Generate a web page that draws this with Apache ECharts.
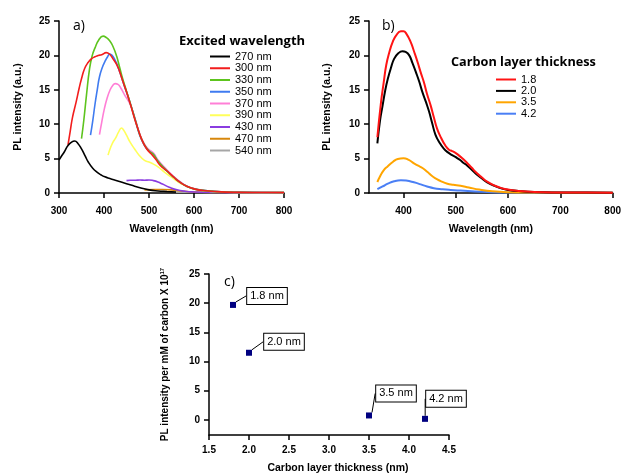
<!DOCTYPE html>
<html><head><meta charset="utf-8">
<script src="https://cdn.jsdelivr.net/npm/echarts@6/dist/echarts.min.js"></script>
<style>html,body{margin:0;padding:0;background:#fff}#c{width:624px;height:475px}</style>
</head><body><div id="c"></div>
<script>
// Panel a: excitation wavelength series [wavelength nm, PL intensity]
const ex270 = [[300,4.8],[305,5.3],[312,6.0],[320,6.9],[328,7.4],[335,7.55],[342,7.2],[350,6.4],[358,5.4],[365,4.5],[375,3.6],[385,3.0],[393,2.65],[402,2.35],[413,2.1],[425,1.85],[440,1.55],[460,1.15],[480,0.75],[500,0.45],[520,0.3],[540,0.22],[560,0.15]];
const ex300 = [[320,7.0],[325,9.0],[330,11.0],[338,13.2],[345,15.3],[350,16.6],[357,18.1],[365,19.0],[372,19.5],[380,19.8],[387,20.0],[395,20.1],[405,20.4],[412,20.2],[420,19.5],[428,18.7],[435,17.6],[442,16.2],[450,14.7],[460,12.6],[468,10.8],[476,9.2],[483,7.9],[492,6.7],[500,6.0],[506,5.6],[515,4.9],[525,4.0],[540,3.2],[555,2.3],[570,1.5],[585,0.95],[600,0.6],[620,0.36],[650,0.2],[700,0.1],[750,0.07],[800,0.05]];
const ex330 = [[350,7.9],[355,10.5],[361,14.2],[368,18.1],[374,20.0],[380,21.1],[388,22.2],[398,22.8],[405,22.6],[413,22.1],[420,21.3],[428,19.9],[435,18.2],[442,16.5],[450,14.8],[460,12.7],[470,10.5],[480,8.4],[490,7.0],[500,6.1],[510,5.6],[520,4.6],[540,3.2],[555,2.3],[570,1.5],[585,0.95],[600,0.6],[620,0.38],[650,0.2],[700,0.1],[800,0.05]];
const ex350 = [[370,8.4],[375,10.5],[380,12.9],[385,15.0],[390,16.9],[396,18.2],[402,19.1],[408,19.8],[413,20.2],[418,20.0],[424,19.4],[430,18.5],[438,17.0],[445,15.6],[452,14.3],[460,12.7],[470,10.5],[480,8.3],[490,6.9],[500,6.1],[510,5.6],[520,4.6],[540,3.2],[555,2.3],[570,1.5],[585,0.95],[600,0.6],[620,0.38],[650,0.2],[700,0.1],[800,0.05]];
const ex370 = [[390,8.5],[395,10.3],[401,12.3],[407,13.8],[413,14.9],[419,15.6],[425,15.9],[431,15.8],[437,15.3],[443,14.6],[448,14.0],[454,13.4],[460,12.6],[470,10.6],[480,8.5],[490,7.1],[500,6.3],[510,5.8],[520,4.8],[540,3.35],[555,2.4],[570,1.6],[585,1.0],[600,0.65],[620,0.4],[650,0.22],[700,0.12],[800,0.06]];
const ex390 = [[409,5.5],[414,6.5],[420,7.4],[426,8.0],[432,8.8],[439,9.45],[444,9.1],[450,8.4],[458,7.4],[468,6.4],[478,5.5],[490,4.75],[500,4.5],[510,4.2],[520,3.8],[535,3.0],[550,2.3],[565,1.6],[580,1.1],[600,0.6],[620,0.35],[650,0.15],[700,0.08],[800,0.05]];
const ex430 = [[450,1.8],[458,1.85],[470,1.85],[480,1.9],[490,1.85],[500,1.9],[510,1.8],[520,1.6],[530,1.3],[545,0.85],[560,0.5],[580,0.25],[600,0.15],[650,0.08],[700,0.05],[800,0.04]];
const ex470 = [[490,0.45],[510,0.5],[530,0.5],[550,0.45],[570,0.3],[600,0.15],[650,0.08],[700,0.06],[800,0.05]];
const ex540 = [[560,0.12],[600,0.1],[650,0.08],[700,0.07],[750,0.06],[800,0.05]];
const exNames = ['270 nm','300 nm','330 nm','350 nm','370 nm','390 nm','430 nm','470 nm','540 nm'];

// Panel b: carbon layer thickness series
const t18 = [[350,8.1],[357,13.2],[362,16.0],[367,18.6],[373,20.5],[379,21.9],[386,22.9],[395,23.5],[400,23.5],[405,23.2],[414,21.9],[420,20.6],[427,19.0],[433,17.5],[439,16.1],[445,14.4],[452,12.7],[458,11.0],[464,9.4],[472,8.0],[480,6.9],[487,6.3],[493,6.1],[500,5.8],[507,5.4],[513,5.0],[520,4.5],[530,3.7],[540,2.9],[550,2.25],[560,1.65],[575,1.05],[590,0.65],[600,0.5],[620,0.3],[650,0.15],[700,0.08],[750,0.06],[800,0.05]];
const t20 = [[350,7.2],[355,10.5],[360,12.7],[365,14.9],[370,16.6],[376,18.2],[382,19.5],[390,20.3],[398,20.6],[404,20.5],[411,20.0],[417,18.9],[424,17.5],[430,16.2],[436,14.7],[443,13.2],[449,11.8],[455,10.1],[461,8.5],[469,7.3],[477,6.45],[485,5.9],[493,5.5],[500,5.2],[509,4.75],[515,4.35],[520,4.1],[530,3.4],[540,2.7],[550,2.1],[560,1.55],[575,1.0],[590,0.6],[600,0.45],[620,0.28],[650,0.14],[700,0.08],[750,0.06],[800,0.05]];
const t35 = [[350,1.6],[355,2.4],[362,3.3],[370,3.9],[380,4.55],[389,4.95],[400,5.05],[410,4.8],[420,4.3],[427,4.0],[437,3.6],[446,3.05],[454,2.5],[462,2.1],[472,1.7],[484,1.35],[495,1.2],[509,1.05],[525,0.8],[545,0.5],[570,0.25],[600,0.12],[650,0.07],[700,0.05],[800,0.04]];
const t42 = [[350,0.55],[360,0.95],[370,1.35],[382,1.7],[395,1.85],[405,1.8],[420,1.55],[433,1.25],[445,0.95],[458,0.7],[475,0.55],[490,0.45],[509,0.35],[530,0.25],[560,0.15],[600,0.08],[700,0.05],[800,0.04]];
const thickNames = ['1.8','2.0','3.5','4.2'];

// Panel c
const thickness = [1.8, 2.0, 3.5, 4.2];
const plPerCarbon = [19.7, 11.5, 0.75, 0.17];
const pointLabels = ['1.8 nm','2.0 nm','3.5 nm','4.2 nm'];

const exColors = ['#000000','#f21d1d','#5dc41e','#3f7bf0','#ff7fd6','#ffff5a','#8a3ce0','#d7870c','#a6a6a6'];
const thColors = ['#ff1414','#000000','#ffa500','#4a7ff5'];

const FONT = 'Liberation Sans, Arial, sans-serif';
function lbl(extra){ return Object.assign({color:'#000',fontFamily:FONT,fontWeight:'bold',fontSize:10}, extra||{}); }
function ax(extra){
  return Object.assign({
    axisLine:{onZero:false, lineStyle:{color:'#000',width:1.5}},
    axisTick:{show:true,length:5,lineStyle:{color:'#000',width:1.5}},
    splitLine:{show:false},
    axisLabel:lbl(),
    nameTextStyle:{color:'#000',fontFamily:FONT,fontWeight:'bold',fontSize:10.5}
  }, extra);
}

const exSeries = [ex270,ex300,ex330,ex350,ex370,ex390,ex430,ex470,ex540].map((d,i)=>({
  name: exNames[i], type:'line', xAxisIndex:0, yAxisIndex:0, data:d, smooth:true,
  symbol:'none', lineStyle:{width:1.6,color:exColors[i]}, itemStyle:{color:exColors[i]}, z: 10 - i
}));
const thSeries = [t18,t20,t35,t42].map((d,i)=>({
  name: thickNames[i], type:'line', xAxisIndex:1, yAxisIndex:1, data:d, smooth:true,
  symbol:'none', lineStyle:{width:2,color:thColors[i]}, itemStyle:{color:thColors[i]}, z: 10 - i
}));
const offs = [[34,-9],[35,-11],[27,-22],[21,-20]];
const scatter = {
  type:'scatter', xAxisIndex:2, yAxisIndex:2, symbol:'rect', symbolSize:6,
  itemStyle:{color:'#000080', opacity:1},
  data: thickness.map((t,i)=>({value:[t,plPerCarbon[i]], name:pointLabels[i]})),
  label:{show:true, position:'inside', formatter:p=>p.name, color:'#000', fontFamily:FONT, fontSize:11,
    backgroundColor:'#fff', borderColor:'#000', borderWidth:1, padding:[3,3,2,3]},
  labelLayout:(p)=>({dx:offs[p.dataIndex][0], dy:offs[p.dataIndex][1]}),
  labelLine:{show:true, lineStyle:{color:'#000',width:1}}
};

const chart = echarts.init(document.getElementById('c'), null, {renderer:'canvas'});
chart.setOption({
  animation:false,
  backgroundColor:'#fff',
  title:[
    {text:'a)', left:68, top:14, textStyle:{fontFamily:'Open Sans',fontWeight:'normal',fontSize:14,color:'#000'}},
    {text:'b)', left:377, top:14, textStyle:{fontFamily:'Open Sans',fontWeight:'normal',fontSize:14,color:'#000'}},
    {text:'c)', left:219, top:270, textStyle:{fontFamily:'Open Sans',fontWeight:'normal',fontSize:14,color:'#000'}},
    {text:'Excited wavelength', left:174, top:30, textStyle:{fontFamily:'Open Sans',fontWeight:'bold',fontSize:13,color:'#000'}},
    {text:'Carbon layer thickness', left:446, top:51, textStyle:{fontFamily:'Open Sans',fontWeight:'bold',fontSize:12.7,color:'#000'}}
  ],
  legend:[
    {data:exNames, orient:'vertical', left:205, top:46, itemWidth:20, itemHeight:2, itemGap:0.75, icon:'rect',
     textStyle:{fontFamily:FONT,fontSize:11,color:'#000',lineHeight:10}},
    {data:thickNames, orient:'vertical', left:491, top:69, itemWidth:20, itemHeight:2, itemGap:0.4, icon:'rect',
     textStyle:{fontFamily:FONT,fontSize:11,color:'#000',lineHeight:10}}
  ],
  grid:[
    {left:59, top:21, width:225, height:172},
    {left:369, top:21, width:246, height:172},
    {left:209, top:274, width:240, height:164}
  ],
  xAxis:[
    ax({type:'value', gridIndex:0, min:300, max:800, interval:100, name:'Wavelength (nm)', nameLocation:'middle', nameGap:31,
        axisLabel:lbl({margin:13})}),
    ax({type:'value', gridIndex:1, min:334, max:800, name:'Wavelength (nm)', nameLocation:'middle', nameGap:31,
        axisLabel:lbl({margin:13,showMinLabel:false})}),
    ax({type:'value', gridIndex:2, min:1.5, max:4.5, interval:0.5, name:'Carbon layer thickness (nm)', nameLocation:'middle', nameGap:28,
        nameTextStyle:{color:'#000',fontFamily:FONT,fontWeight:'bold',fontSize:10.5,padding:[0,0,0,18]},
        axisLabel:lbl({margin:10,formatter:v=>v.toFixed(1)})})
  ],
  yAxis:[
    ax({type:'value', gridIndex:0, min:0, max:25, interval:5, name:'PL intensity (a.u.)', nameLocation:'middle', nameGap:35,
        axisLabel:lbl({margin:9})}),
    ax({type:'value', gridIndex:1, min:0, max:25, interval:5, name:'PL intensity (a.u.)', nameLocation:'middle', nameGap:36,
        axisLabel:lbl({margin:9})}),
    ax({type:'value', gridIndex:2, min:-2.6, max:25, name:'PL intensity per mM of carbon X 10{sup|17}', nameLocation:'middle', nameGap:37,
        axisLabel:lbl({margin:9,showMinLabel:false}),
        nameTextStyle:{color:'#000',fontFamily:FONT,fontWeight:'bold',fontSize:10,
          rich:{sup:{fontFamily:FONT,fontWeight:'bold',fontSize:6,verticalAlign:'top',padding:[0,0,7,0],color:'#000'}}}})
  ],
  series: exSeries.concat(thSeries).concat([scatter])
});
</script></body></html>
